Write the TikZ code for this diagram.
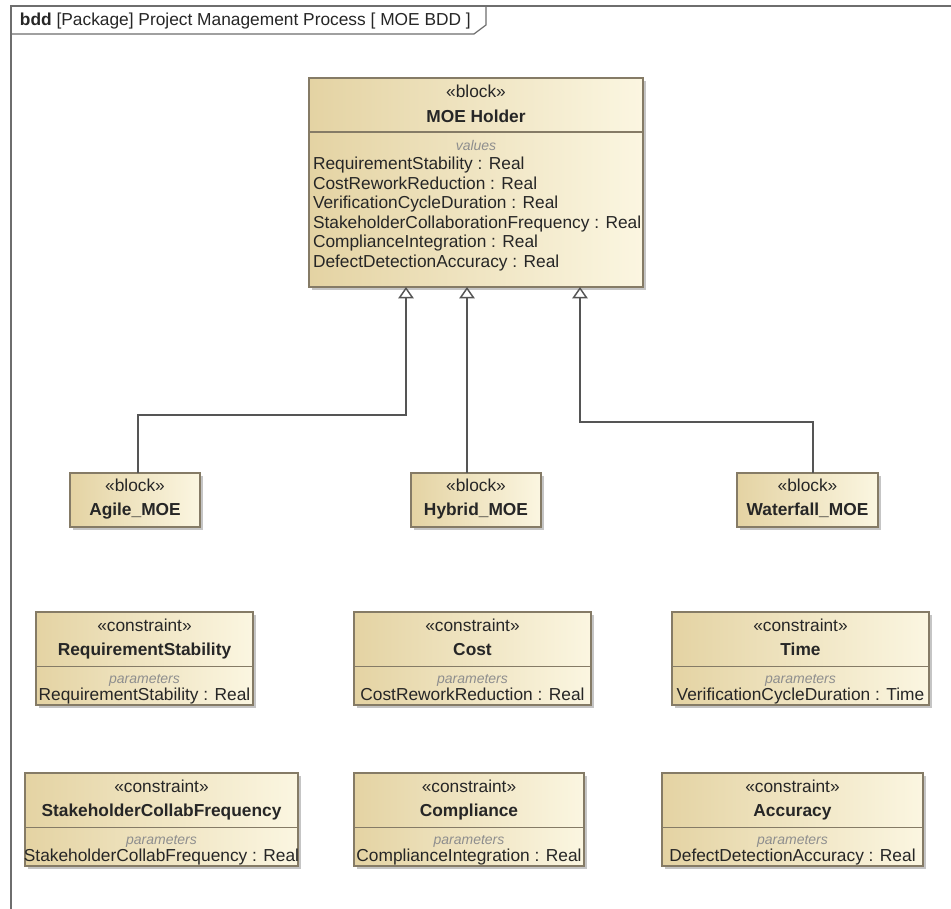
\documentclass[tikz,border=0pt]{standalone}
\usepackage{fontspec}
\setmainfont{Liberation Sans}
\usetikzlibrary{arrows.meta,calc,shadows}

\definecolor{boxline}{HTML}{857B66}
\definecolor{tanL}{HTML}{E4D3A3}
\definecolor{tanR}{HTML}{FBF6E1}
\definecolor{ink}{HTML}{262626}
\definecolor{linkcol}{HTML}{555555}
\definecolor{framecol}{HTML}{6E6E6E}
\definecolor{compcol}{HTML}{8E8E8E}

% one constraint block: name, x, y, width, title, parameter line
\newcommand\mkconstraint[6]{%
  \node[umlbox={#4}{93}] (#1) at (#2,#3) {};
  \node[stereotxt] (#1-st) at ($(#1.north)+(0,15.5)$) {«constraint»};
  \node[blkname] (#1-nm) at ($(#1.north)+(0,39)$) {#5};
  \draw[divline] ($(#1.north west)+(0,54.5)$) -- ($(#1.north east)+(0,54.5)$);
  \node[comptxt] (#1-cp) at ($(#1.north)+(0,68)$) {parameters};
  \node[attrtxt] (#1-pr) at ($(#1.north)+(0,84.5)$) {#6};
}

% one plain block: name, x, y, width, title
\newcommand\mkblock[5]{%
  \node[umlbox={#4}{54}] (#1) at (#2,#3) {};
  \node[stereotxt] (#1-st) at ($(#1.north)+(0,14.5)$) {«block»};
  \node[blkname] (#1-nm) at ($(#1.north)+(0,38.5)$) {#5};
}

\begin{document}
\begin{tikzpicture}[x=0.75pt,y=-0.75pt,
  every node/.style={inner sep=0pt,outer sep=0pt,text=ink},
  umlbox/.style 2 args={draw=boxline,line width=0.9pt,left color=tanL,right color=tanR,
    minimum width=#1*0.75pt,minimum height=#2*0.75pt,anchor=north west,
    drop shadow={shadow xshift=2.2pt,shadow yshift=-2.2pt,fill=black!45,opacity=0.5}},
  stereotxt/.style={font=\fontsize{13}{15}\selectfont,text height=9.4pt,text depth=2.7pt},
  blkname/.style={font=\fontsize{13}{15}\selectfont\bfseries,text height=9.4pt,text depth=2.7pt},
  comptxt/.style={font=\fontsize{10.5}{12}\selectfont\itshape,text=compcol,text height=7.6pt,text depth=2.2pt},
  attrtxt/.style={font=\fontsize{13}{15}\selectfont,text height=9.4pt,text depth=2.7pt},
  divline/.style={draw=boxline,line width=0.9pt},
  frameline/.style={draw=framecol,line width=0.9pt},
  gen/.style={draw=linkcol,line width=1.1pt,
    -{Triangle[open,length=8.5pt,width=11.5pt,fill=white]}}]

\useasboundingbox (0,0) rectangle (951,909);
\fill[white] (0,0) rectangle (951,909);

% diagram frame and its name tab
\draw[frameline] (951,6) -- (11,6) -- (11,909);
\draw[frameline] (11,34) -- (474,34) -- (486,25) -- (486,6);
\node[anchor=west,font=\fontsize{13}{15}\selectfont] (frametitle) at (20,21)
  {\textbf{bdd} [Package] Project Management Process [ MOE BDD ]};

% MOE Holder block with its value compartment
\node[umlbox={334}{209}] (moe) at (309,78) {};
\node[stereotxt] (moe-st) at ($(moe.north)+(0,15)$) {«block»};
\node[blkname] (moe-nm) at ($(moe.north)+(0,40)$) {MOE Holder};
\draw[divline] ($(moe.north west)+(0,54)$) -- ($(moe.north east)+(0,54)$);
\node[comptxt] (moe-cp) at ($(moe.north)+(0,69)$) {values};
\node[anchor=west,align=left,font=\fontsize{13}{14.7}\selectfont] (moe-vals)
  at ($(moe.north west)+(4,136)$) {%
  RequirementStability : Real\\
  CostReworkReduction : Real\\
  VerificationCycleDuration : Real\\
  StakeholderCollaborationFrequency : Real\\
  ComplianceIntegration : Real\\
  DefectDetectionAccuracy : Real};

% specialised blocks
\mkblock{agile}{70}{473}{130}{Agile\_MOE}
\mkblock{hybrid}{411}{473}{130}{Hybrid\_MOE}
\mkblock{waterfall}{737}{473}{141}{Waterfall\_MOE}

% generalisation links
\coordinate (elbowA) at (406,415);
\coordinate (elbowW) at (580,422);
\draw[gen] ($(agile.north west)+(68,0)$) |- (elbowA) -- (elbowA |- moe.south);
\draw[gen] ($(hybrid.north west)+(56,0)$) -- ($(moe.south west)+(158,0)$);
\draw[gen] ($(waterfall.north west)+(76,0)$) |- (elbowW) -- (elbowW |- moe.south);

% constraint blocks
\mkconstraint{rs}{36}{612}{217}{RequirementStability}{RequirementStability : Real}
\mkconstraint{cost}{354}{612}{237}{Cost}{CostReworkReduction : Real}
\mkconstraint{time}{672}{612}{257}{Time}{VerificationCycleDuration : Time}
\mkconstraint{scf}{25}{773}{273}{StakeholderCollabFrequency}{StakeholderCollabFrequency : Real}
\mkconstraint{compl}{354}{773}{230}{Compliance}{ComplianceIntegration : Real}
\mkconstraint{acc}{662}{773}{261}{Accuracy}{DefectDetectionAccuracy : Real}

\end{tikzpicture}
\end{document}
